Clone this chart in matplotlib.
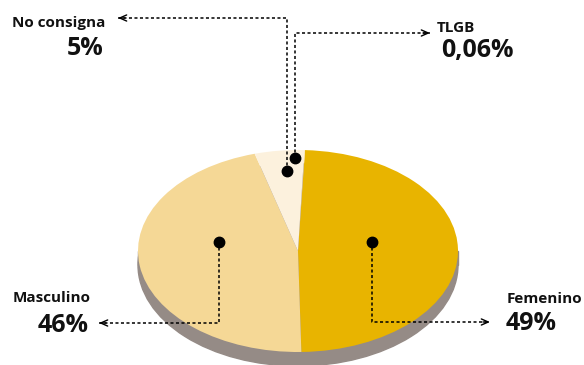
import numpy as np
import matplotlib.pyplot as plt
from matplotlib.patches import Ellipse, Rectangle

# Datos
categorias = ['Femenino', 'Masculino', 'No consigna', 'TLGB']
porcentajes = [49, 46, 5, 0.06]
etiquetas = ['49%', '46%', '5%', '0,06%']
colores = ['#e8b400', '#f5d896', '#fcf1dd', '#f7e2b5']

W, H = 584, 365
cx, cy = 298, 251      # centro de la elipse (px)
rx, ry = 160, 101      # semiejes (px)
prof = 14              # profundidad del "3D" (px)


def px(x, y):
    # píxeles de la imagen -> coordenadas de datos
    return (x - cx) / rx, (cy - y) / ry


fig = plt.figure(figsize=(W / 100, H / 100), dpi=100)
ax = fig.add_axes([0, 0, 1, 1])

wedges, _ = ax.pie(porcentajes, colors=colores, startangle=87.5, counterclock=False,
                   radius=1, wedgeprops=dict(linewidth=0))
for w in wedges:
    w.set_zorder(2)

# lateral gris
d = prof / ry
ax.add_patch(Ellipse((0, -d), 2, 2, color='#958b86', zorder=1))
ax.add_patch(Rectangle((-1, -d), 2, d, color='#958b86', zorder=1))

ax.set_aspect('auto')
ax.set_xlim(-cx / rx, (W - cx) / rx)
ax.set_ylim(-(H - cy) / ry, cy / ry)
ax.axis('off')

# posición de cada punto dentro de su porción (ángulo, radio)
puntos = [(11, 0.47), (170, 0.5), (95, 0.8), (91, 0.92)]
# (y de la guía, x de la punta, x texto nombre, base nombre, x texto %, base %, alineación %)
guias = [
    (322, 490, 507, 303, 506, 330, 'left'),
    (323, 99, 13, 302, 89, 332, 'right'),
    (18, 118, 12, 27, 104, 55, 'right'),
    (33, 430, 437, 32, 441, 57, 'left'),
]

fuente = 'Open Sans'
for (a, r), g, nombre, pct in zip(puntos, guias, categorias, etiquetas):
    ang = np.deg2rad(a)
    x0, y0 = r * np.cos(ang), r * np.sin(ang)
    ly = px(0, g[0])[1]
    tx = px(g[1], 0)[0]
    ax.plot([x0, x0, tx], [y0, ly, ly], color='black', lw=1.1,
            linestyle=(0, (2, 1.6)), zorder=3)
    ax.plot(x0, y0, 'o', color='black', markersize=7.5, zorder=4)
    paso = 7 / rx * (1 if tx < x0 else -1)
    ax.annotate('', xy=(tx, ly), xytext=(tx + paso, ly),
                arrowprops=dict(arrowstyle='->,head_length=0.5,head_width=0.22',
                                lw=1, color='black', shrinkA=0, shrinkB=0), zorder=4)
    ax.text(*px(g[2], g[3]), nombre, fontsize=11, fontweight='bold', family=fuente,
            ha='left', va='baseline', color='#111111')
    ax.text(*px(g[4], g[5]), pct, fontsize=18, fontweight='bold', family=fuente,
            ha=g[6], va='baseline', color='#111111')

fig.savefig('out.png', dpi=100)
